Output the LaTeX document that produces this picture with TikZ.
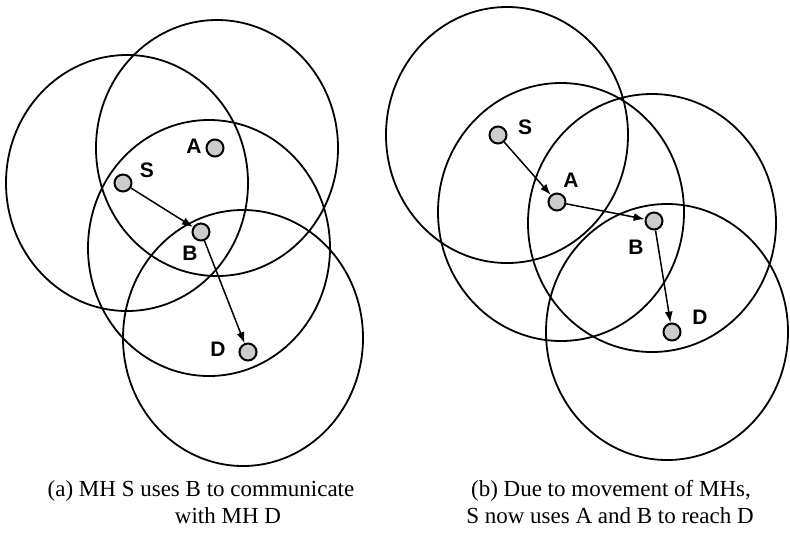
\documentclass[tikz,border=0pt]{standalone}
\usepackage{fontspec}
\setmainfont{Liberation Serif}
\newfontfamily\hostfont{Liberation Sans}
\usetikzlibrary{arrows.meta}

\tikzset{
  host/.style={circle, draw, line width=2pt, fill=gray!40, minimum size=17pt, inner sep=0pt},
  radiorange/.style={line width=1.8pt},
  hop/.style={-{Latex[length=11pt,width=8pt]}, line width=1.5pt},
  hostlabel/.style={font=\hostfont\bfseries\fontsize{21}{21}\selectfont, inner sep=0pt},
  captext/.style={font=\fontsize{23}{25}\selectfont, inner sep=0pt}
}

\begin{document}
\begin{tikzpicture}[x=1pt, y=-1pt]
    \useasboundingbox (0,0) rectangle (790,542);

    % (a) ranges of the MHs
    \draw[radiorange] (127,183) ellipse [x radius=121pt, y radius=128pt];
    \draw[radiorange] (217,148) ellipse [x radius=121pt, y radius=128pt];
    \draw[radiorange] (209,248) ellipse [x radius=121pt, y radius=128pt];
    \draw[radiorange] (243,338) ellipse [x radius=120pt, y radius=128pt];

    % (a) hosts
    \node[host] (aS) at (123,183) {};
    \node[host] (aA) at (215,148) {};
    \node[host] (aB) at (201,232) {};
    \node[host] (aD) at (248,352) {};
    \node[hostlabel] (aSl) at (147,170) {S};
    \node[hostlabel] (aAl) at (194,146) {A};
    \node[hostlabel] (aBl) at (190,253) {B};
    \node[hostlabel] (aDl) at (218,349) {D};
    \draw[hop] (aS) -- (aB);
    \draw[hop] (aB) -- (aD);

    % (b) ranges of the MHs
    \draw[radiorange] (507,135) ellipse [x radius=121pt, y radius=128pt];
    \draw[radiorange] (561,212) ellipse [x radius=123pt, y radius=129pt];
    \draw[radiorange] (652,223) ellipse [x radius=124pt, y radius=129pt];
    \draw[radiorange] (667,332) ellipse [x radius=121pt, y radius=128pt];

    % (b) hosts
    \node[host] (bS) at (498,135) {};
    \node[host] (bA) at (557,202) {};
    \node[host] (bB) at (654,221) {};
    \node[host] (bD) at (672,332) {};
    \node[hostlabel] (bSl) at (525,127) {S};
    \node[hostlabel] (bAl) at (571,180) {A};
    \node[hostlabel] (bBl) at (636,247) {B};
    \node[hostlabel] (bDl) at (700,317) {D};
    \draw[hop] (bS) -- (bA);
    \draw[hop] (bA) -- (bB);
    \draw[hop] (bB) -- (bD);

    % captions
    \node[captext] (capa1) at (201,491) {(a) MH S uses B to communicate};
    \node[captext] (capa2) at (228,516) {with MH D};
    \node[captext] (capb1) at (611,491) {(b) Due to movement of MHs,};
    \node[captext] (capb2) at (610,516) {S now uses A and B to reach D};
\end{tikzpicture}
\end{document}
